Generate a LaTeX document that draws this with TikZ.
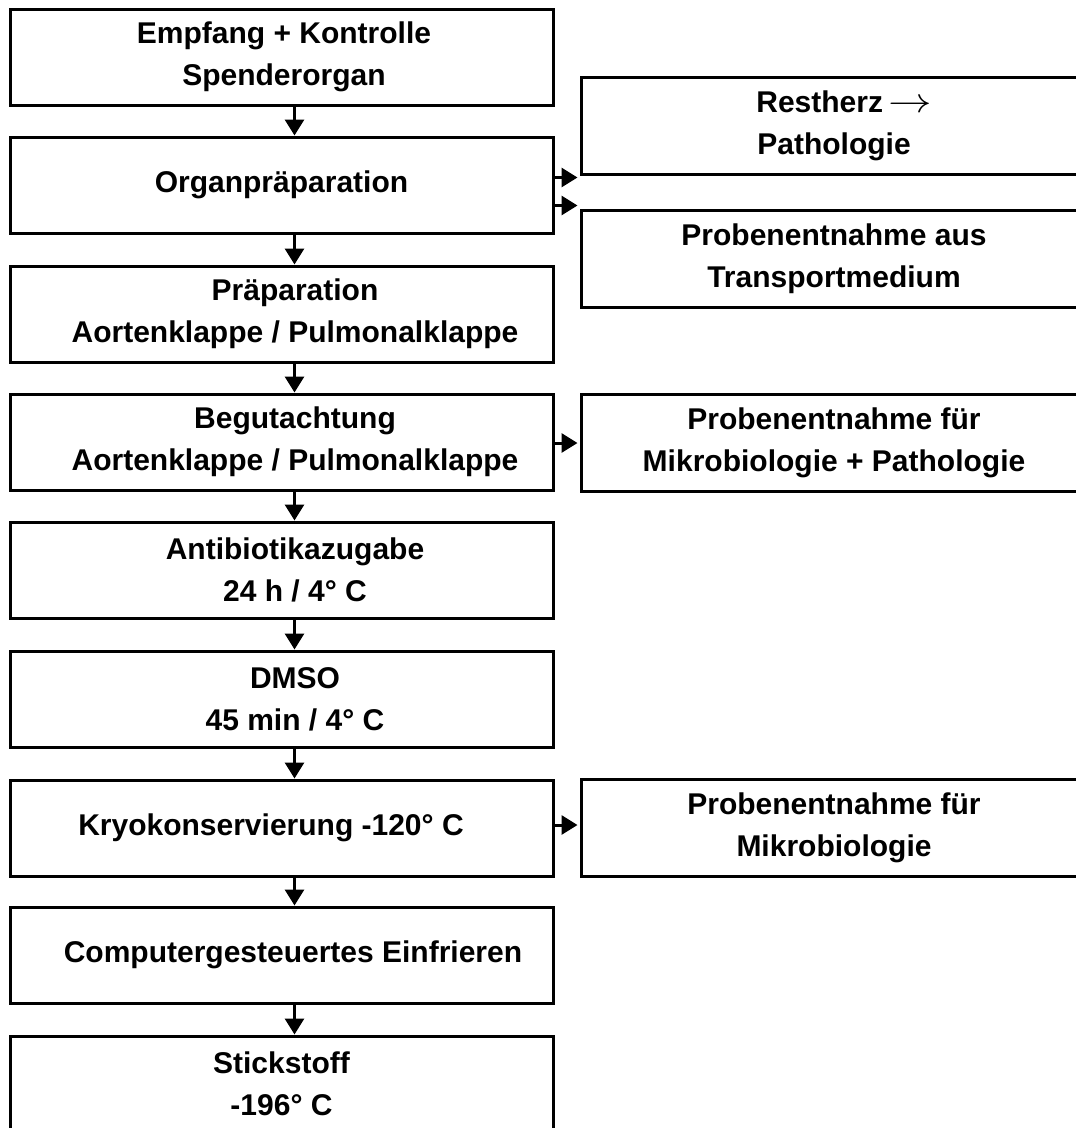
\documentclass[tikz,border=0pt]{standalone}
\usepackage{fontspec}
\setmainfont{Liberation Sans}[UprightFont=* Bold, BoldFont=* Bold, FakeStretch=1.0]
\usetikzlibrary{arrows.meta}
\begin{document}
\begin{tikzpicture}[x={(1pt,0)}, y={(0,-1pt)},
  box/.style={draw, line width=3pt, minimum width=543pt, minimum height=96pt, inner sep=0pt},
  rbox/.style={draw, line width=3pt, minimum width=506pt, minimum height=97pt, inner sep=0pt,
    align=center, font=\fontsize{30}{42}\selectfont},
  txt/.style={align=center, inner sep=0pt, font=\fontsize{30}{42}\selectfont},
  arr/.style={line width=3pt, -{Triangle[length=16pt, width=19pt]}}]
\useasboundingbox (0,0) rectangle (1076,1128);
\clip (0,0) rectangle (1076,1128);
% left column boxes
\node[box] (b1) at (281.5,57) {};
\node[box] (b2) at (281.5,185) {};
\node[box] (b3) at (281.5,314) {};
\node[box] (b4) at (281.5,442) {};
\node[box] (b5) at (281.5,570) {};
\node[box] (b6) at (281.5,699) {};
\node[box] (b7) at (281.5,828) {};
\node[box] (b8) at (281.5,955) {};
\node[box] (b9) at (281.5,1084) {};
% texts
\node[txt] (t1) at (284,57) {Empfang + Kontrolle\\Spenderorgan};
\node[txt] (t2) at (281.5,185) {Organpräparation};
\node[txt] (t3) at (295,314) {Präparation\\Aortenklappe / Pulmonalklappe};
\node[txt] (t4) at (295,442) {Begutachtung\\Aortenklappe / Pulmonalklappe};
\node[txt] (t5) at (295,570) {Antibiotikazugabe\\24 h / 4° C};
\node[txt] (t6) at (295,699) {DMSO\\45 min / 4° C};
\node[txt] (t7) at (271,828) {Kryokonservierung -120° C};
\node[txt] (t8) at (293,955) {Computergesteuertes Einfrieren};
\node[txt] (t9) at (281.5,1084) {Stickstoff\\-196° C};
% right boxes
\node[rbox] (r1) at (834,125.5) {\hspace*{20pt}Restherz\,\scalebox{1.75}[1.4]{$\rightarrow$}\\Pathologie};
\node[rbox] (r2) at (834,258.5) {Probenentnahme aus\\Transportmedium};
\node[rbox] (r3) at (834,443) {Probenentnahme für\\Mikrobiologie + Pathologie};
\node[rbox] (r4) at (834,828) {Probenentnahme für\\Mikrobiologie};
% vertical arrows
\foreach \a/\b in {b1/b2,b2/b3,b3/b4,b4/b5,b5/b6,b6/b7,b7/b8,b8/b9}{
  \draw[arr] ([xshift=13pt]\a.south) -- ([xshift=13pt]\b.north);
}
% side arrows
\draw[arr] ([yshift=-2pt]b2.east |- r1.south) -- ([yshift=-2pt,xshift=-2pt]r1.south west);
\draw[arr] ([yshift=3pt]b2.east |- r2.north) -- ([yshift=3pt,xshift=-2pt]r2.north west);
\draw[arr] (b4.east |- r3.west) -- ([xshift=-2pt]r3.west);
\draw[arr] ([yshift=3pt]b7.east |- r4.west) -- ([yshift=3pt,xshift=-2pt]r4.west);
\end{tikzpicture}
\end{document}
